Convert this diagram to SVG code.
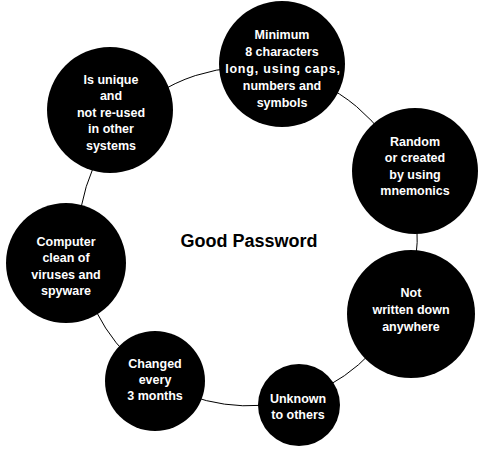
<svg xmlns="http://www.w3.org/2000/svg" width="485" height="451" viewBox="0 0 485 451">
<style>
.bg{fill:#ffffff}
.node{fill:#000000}
.lbl{fill:#ffffff;font-family:"Liberation Sans",Arial,sans-serif;font-weight:bold;font-size:12.5px;text-anchor:middle}
.title{fill:#000000;font-family:"Liberation Sans",Arial,sans-serif;font-weight:bold;font-size:18px;text-anchor:middle}
.conn{fill:none;stroke:#000000;stroke-width:1}
</style>
<rect class="bg" x="0" y="0" width="485" height="451"/>
<g id="connectors">
<path class="conn" d="M123.2,122.1 A169.3,169.3 0 0 1 280.9,70.4"/>
<path class="conn" d="M280.9,70.4 A169.3,169.3 0 0 1 405.6,174.7"/>
<path class="conn" d="M405.6,174.7 A169.3,169.3 0 0 1 400.9,309.1"/>
<path class="conn" d="M400.9,309.1 A169.3,169.3 0 0 1 296.9,398.6"/>
<path class="conn" d="M296.9,398.6 A169.3,169.3 0 0 1 156.3,378.8"/>
<path class="conn" d="M156.3,378.8 A169.3,169.3 0 0 1 80.5,260.9"/>
<path class="conn" d="M80.5,260.9 A169.3,169.3 0 0 1 123.2,122.1"/>
</g>
<g id="title"><text class="title" x="249" y="247">Good Password</text></g>
<g id="node-minimum">
<circle class="node" cx="282" cy="64" r="63"/>
<text class="lbl" x="282" y="38.5">Minimum</text>
<text class="lbl" x="282" y="55.5">8 characters</text>
<text class="lbl" x="283" y="72.5" letter-spacing="0.8">long, using caps,</text>
<text class="lbl" x="282" y="89.5">numbers and</text>
<text class="lbl" x="282" y="106.5">symbols</text>
</g>
<g id="node-unique">
<circle class="node" cx="110" cy="110" r="63"/>
<text class="lbl" x="111" y="83.5">Is unique</text>
<text class="lbl" x="111" y="100">and</text>
<text class="lbl" x="111" y="116.5">not re-used</text>
<text class="lbl" x="111" y="133">in other</text>
<text class="lbl" x="111" y="149.5">systems</text>
</g>
<g id="node-random">
<circle class="node" cx="415" cy="171" r="63"/>
<text class="lbl" x="415" y="145.5">Random</text>
<text class="lbl" x="415" y="162">or created</text>
<text class="lbl" x="415" y="178.5">by using</text>
<text class="lbl" x="415" y="195">mnemonics</text>
</g>
<g id="node-notwritten">
<circle class="node" cx="411" cy="314" r="64"/>
<text class="lbl" x="411" y="297">Not</text>
<text class="lbl" x="411" y="314">written down</text>
<text class="lbl" x="411" y="331">anywhere</text>
</g>
<g id="node-unknown">
<circle class="node" cx="299" cy="405" r="41"/>
<text class="lbl" x="298" y="402.5">Unknown</text>
<text class="lbl" x="298" y="419">to others</text>
</g>
<g id="node-changed">
<circle class="node" cx="155" cy="381" r="50"/>
<text class="lbl" x="155" y="367.5">Changed</text>
<text class="lbl" x="155" y="383.5">every</text>
<text class="lbl" x="155" y="399.5">3 months</text>
</g>
<g id="node-computer">
<circle class="node" cx="66" cy="263" r="60"/>
<text class="lbl" x="66" y="245.5">Computer</text>
<text class="lbl" x="66" y="262">clean of</text>
<text class="lbl" x="66" y="278.5">viruses and</text>
<text class="lbl" x="66" y="295">spyware</text>
</g>
</svg>
